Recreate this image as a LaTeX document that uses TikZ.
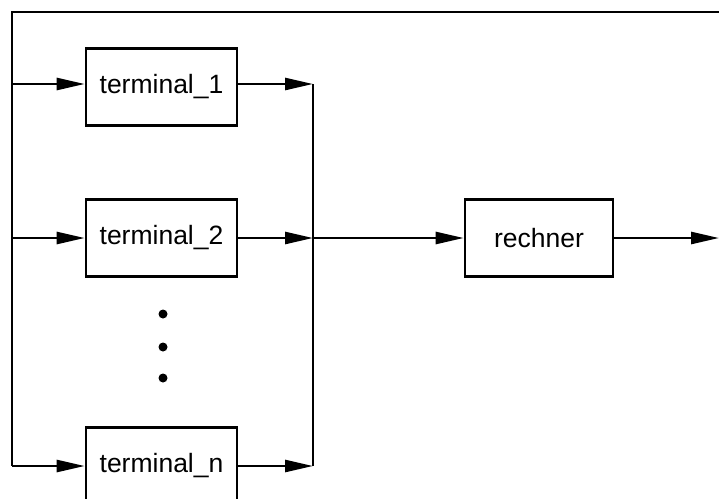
\documentclass[tikz,border=0pt]{standalone}
\usepackage{fontspec}
\setmainfont{Liberation Sans}
\usetikzlibrary{arrows.meta}
\begin{document}
\begin{tikzpicture}[x=1pt,y=-1pt,line width=2.6pt,
  blk/.style={draw,minimum width=151pt,minimum height=77pt,font=\fontsize{26.5}{30}\selectfont},
  arr/.style={-{Triangle[length=28pt,width=12pt]}},
  dotmark/.style={circle,fill,inner sep=0pt,minimum size=9pt}]
\useasboundingbox (0,0) rectangle (719,498);
\clip (0,0) rectangle (719,498);
\node[blk] (t1) at (161.5,87) {terminal\_1};
\node[blk] (t2) at (161.5,238) {terminal\_2};
\node[blk] (tn) at (161.5,466) {terminal\_n};
\node[blk,minimum width=148pt] (r) at (539,238) {rechner};
\node[dotmark] (d1) at (163,314) {};
\node[dotmark] (d2) at (163,347) {};
\node[dotmark] (d3) at (163,378) {};
\coordinate (tl) at (12,12);
\coordinate (tr) at (719,12);
\coordinate (lb) at (12,466);
\coordinate (j1) at (313,84);
\coordinate (j2) at (313,238);
\coordinate (jn) at (313,466);
\coordinate (out) at (719,238);
\draw (tr) -- (tl) -- (lb);
\draw[arr] (12,84) -- (t1.west |- 0,84);
\draw[arr] (12,238) -- (t2.west);
\draw[arr] (lb) -- (tn.west);
\draw[arr] (t1.east |- j1) -- (j1);
\draw[arr] (t2.east) -- (j2);
\draw[arr] (tn.east) -- (jn);
\draw (j1) -- (jn);
\draw[arr] (j2) -- (r.west);
\draw[arr] (r.east) -- (out);
\end{tikzpicture}
\end{document}
